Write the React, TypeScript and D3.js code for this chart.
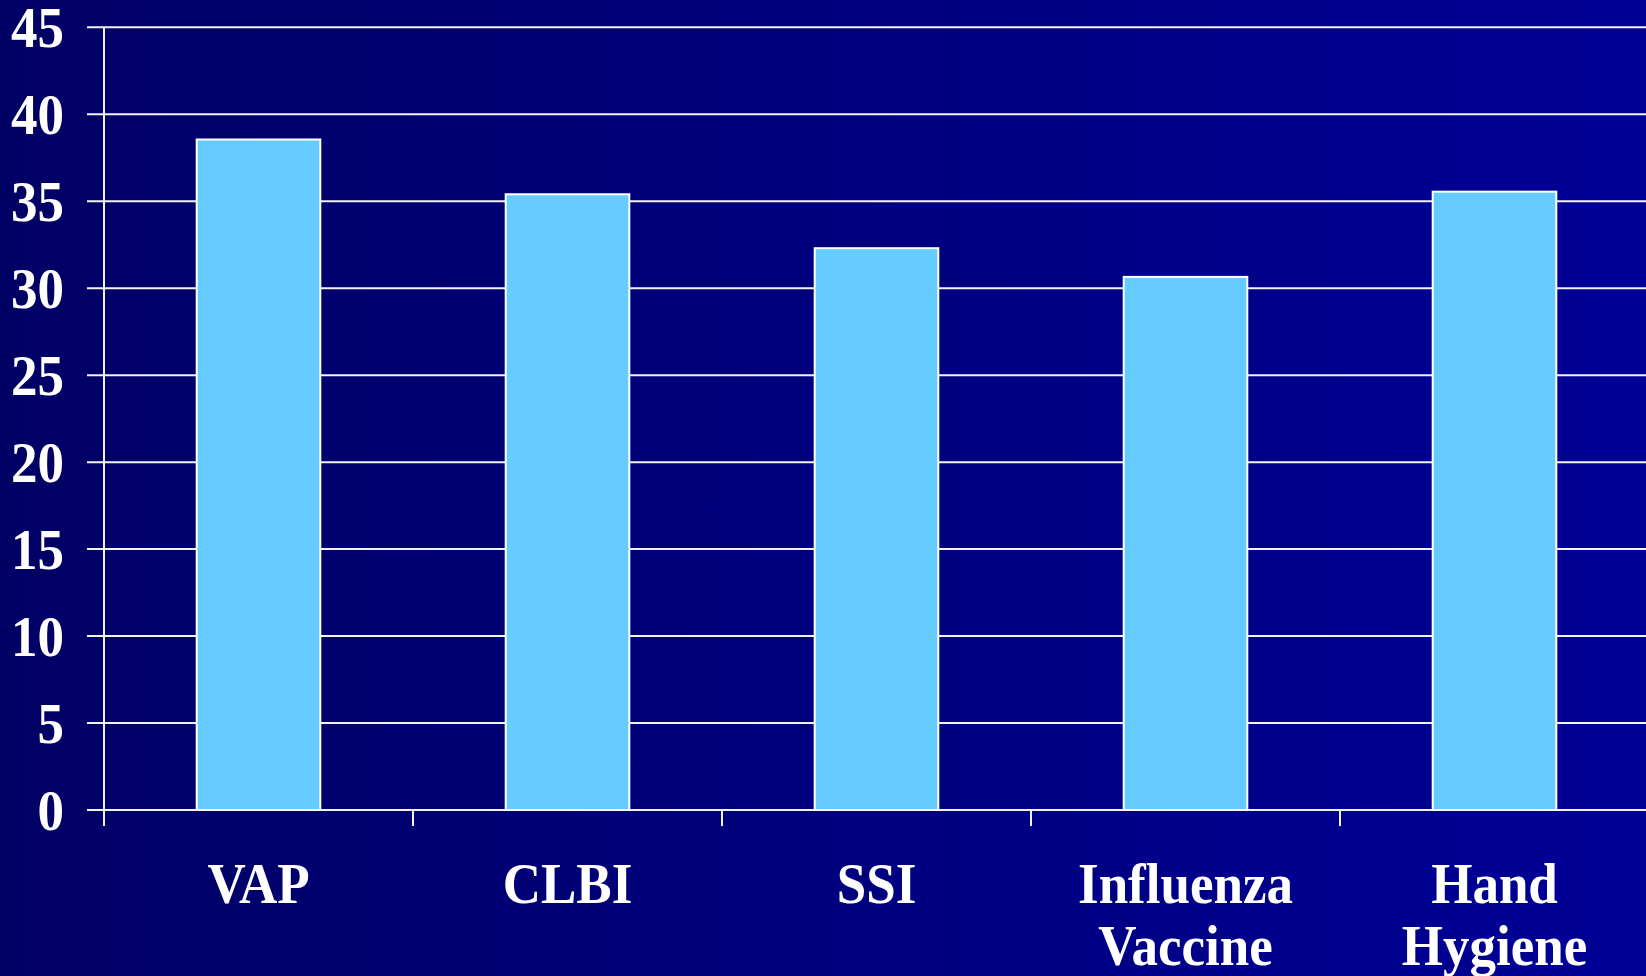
import React, { useEffect, useRef } from "react";
import * as d3 from "d3";

// Chart data
const categories: string[][] = [
  ["VAP"],
  ["CLBI"],
  ["SSI"],
  ["Influenza", "Vaccine"],
  ["Hand", "Hygiene"],
];
const values: number[] = [38.55, 35.4, 32.3, 30.65, 35.55];
const yTicks: number[] = [0, 5, 10, 15, 20, 25, 30, 35, 40, 45];

const WIDTH = 1646;
const HEIGHT = 976;

export default function App() {
  const ref = useRef<SVGSVGElement | null>(null);

  useEffect(() => {
    const svg = d3.select(ref.current);
    svg.selectAll("*").remove();

    const left = 104;
    const right = 1649;
    const top = 27.3;
    const bottom = 810;

    const defs = svg.append("defs");
    const grad = defs
      .append("linearGradient")
      .attr("id", "bg")
      .attr("x1", "0%")
      .attr("x2", "100%")
      .attr("y1", "0%")
      .attr("y2", "0%");
    grad.append("stop").attr("offset", "0%").attr("stop-color", "#000064");
    grad.append("stop").attr("offset", "100%").attr("stop-color", "#000097");

    svg
      .append("rect")
      .attr("width", WIDTH)
      .attr("height", HEIGHT)
      .attr("fill", "url(#bg)");

    const keys = categories.map((c) => c.join(" "));
    const x = d3
      .scaleBand<string>()
      .domain(keys)
      .range([left, right])
      .paddingInner(0.6)
      .paddingOuter(0.3);
    const y = d3.scaleLinear().domain([0, 45]).range([bottom, top]);

    const step = (right - left) / keys.length;
    const lineColor = "#f2f2f2";
    const font = "'Liberation Serif', 'Times New Roman', serif";
    const stretch = 1.06;

    // Horizontal gridlines with left tick marks
    svg
      .append("g")
      .selectAll("line")
      .data(yTicks)
      .join("line")
      .attr("x1", left - 17)
      .attr("x2", WIDTH)
      .attr("y1", (d) => y(d))
      .attr("y2", (d) => y(d))
      .attr("stroke", lineColor)
      .attr("stroke-width", 2);

    // Y axis line
    svg
      .append("line")
      .attr("x1", left)
      .attr("x2", left)
      .attr("y1", y(45))
      .attr("y2", bottom + 16)
      .attr("stroke", lineColor)
      .attr("stroke-width", 2);

    // Category tick marks
    svg
      .append("g")
      .selectAll("line")
      .data(keys.slice(1))
      .join("line")
      .attr("x1", (_, i) => left + step * (i + 1))
      .attr("x2", (_, i) => left + step * (i + 1))
      .attr("y1", bottom)
      .attr("y2", bottom + 16)
      .attr("stroke", lineColor)
      .attr("stroke-width", 2);

    // Bars
    svg
      .append("g")
      .selectAll("rect")
      .data(values)
      .join("rect")
      .attr("x", (_, i) => x(keys[i]) as number)
      .attr("width", x.bandwidth())
      .attr("y", (d) => y(d))
      .attr("height", (d) => bottom - y(d))
      .attr("fill", "#66CCFF")
      .attr("stroke", "#ffffff")
      .attr("stroke-width", 2);

    // Y tick labels
    svg
      .append("g")
      .selectAll("text")
      .data(yTicks)
      .join("text")
      .attr(
        "transform",
        (d) => `translate(64,${y(d)}) scale(1,${stretch})`
      )
      .attr("dy", "0.35em")
      .attr("text-anchor", "end")
      .attr("fill", "#ffffff")
      .attr("font-family", font)
      .attr("font-weight", "bold")
      .attr("font-size", 53)
      .text((d) => String(d));

    // Category labels, one text per line
    const lines = categories.flatMap((c, i) =>
      c.map((line, j) => ({ line, i, j }))
    );
    svg
      .append("g")
      .selectAll("text")
      .data(lines)
      .join("text")
      .attr(
        "transform",
        (d) =>
          `translate(${(x(keys[d.i]) as number) + x.bandwidth() / 2},${
            903 + d.j * 62
          }) scale(1,${stretch})`
      )
      .attr("text-anchor", "middle")
      .attr("fill", "#ffffff")
      .attr("font-family", font)
      .attr("font-weight", "bold")
      .attr("font-size", 53)
      .text((d) => d.line);
  }, []);

  return (
    <svg
      ref={ref}
      width={WIDTH}
      height={HEIGHT}
      style={{ position: "absolute", left: 0, top: 0, display: "block" }}
    />
  );
}
